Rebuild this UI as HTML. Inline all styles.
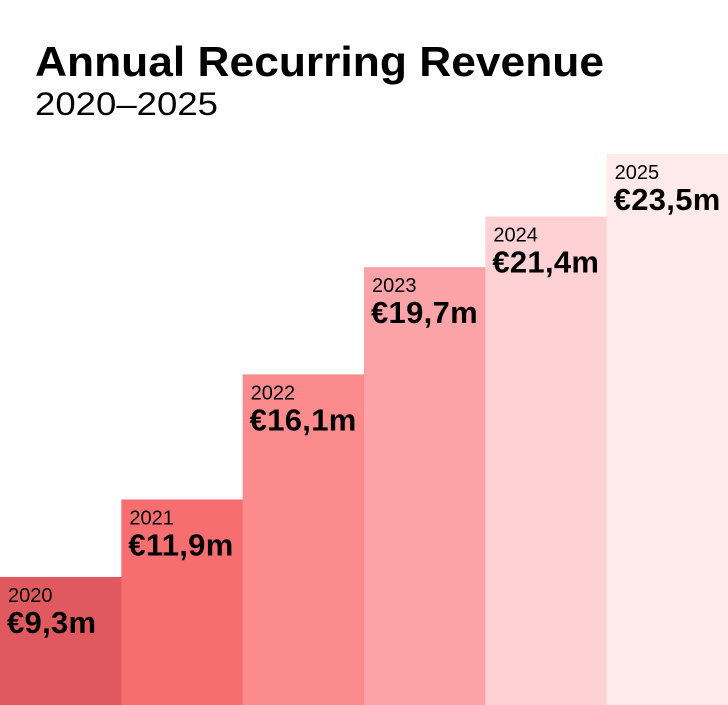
<!DOCTYPE html>
<html><head><meta charset="utf-8"><style>
html,body{margin:0;padding:0;background:#fff;width:728px;height:705px;overflow:hidden;font-family:"Liberation Sans",sans-serif;}
</style></head><body>
<svg width="728" height="705">
<text x="35" y="76" font-size="42" font-weight="bold" fill="#000" textLength="569" lengthAdjust="spacingAndGlyphs">Annual Recurring Revenue</text>
<text x="35" y="115" font-size="32" fill="#000" textLength="183" lengthAdjust="spacingAndGlyphs">2020–2025</text>
<g id="bars"></g>
</svg>
<script>
const years = ["2020","2021","2022","2023","2024","2025"];
const values = [9.3, 11.9, 16.1, 19.7, 21.4, 23.5];
const valueLabels = ["€9,3m","€11,9m","€16,1m","€19,7m","€21,4m","€23,5m"];
const colors = ["#e0595f","#f66e70","#fc8b8e","#fca3a7","#fed1d5","#ffeaeb"];
const base = 705, top0 = 154, vMin = 5, vMax = 23.5;
const yScale = v => base - (v - vMin) / (vMax - vMin) * (base - top0);
const bw = 728 / years.length;
const xScale = i => i * bw;
const g = document.getElementById('bars');
const NS = "http://www.w3.org/2000/svg";
years.forEach((yr, i) => {
  const x = xScale(i), y = yScale(values[i]);
  const r = document.createElementNS(NS, 'rect');
  r.setAttribute('x', x); r.setAttribute('y', y);
  r.setAttribute('width', bw + 0.5); r.setAttribute('height', base - y);
  r.setAttribute('fill', colors[i]);
  
  
  g.appendChild(r);
  const t1 = document.createElementNS(NS, 'text');
  t1.setAttribute('x', x + 8); t1.setAttribute('y', y + 25);
  t1.setAttribute('font-size', '20');
  t1.textContent = yr;
  
  
  g.appendChild(t1);
  const t2 = document.createElementNS(NS, 'text');
  t2.setAttribute('x', x + 7); t2.setAttribute('y', y + 56);
  t2.setAttribute('font-size', '31'); t2.setAttribute('font-weight', 'bold');
  t2.setAttribute('letter-spacing', '0.3');
  t2.textContent = valueLabels[i];
  
  
  g.appendChild(t2);
});
</script>
</body></html>
